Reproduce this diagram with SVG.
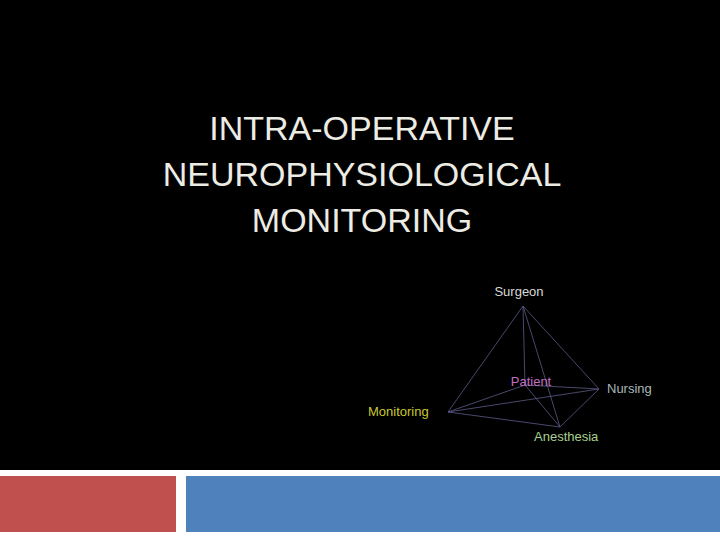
<svg xmlns="http://www.w3.org/2000/svg" width="720" height="540" viewBox="0 0 720 540">
<style>
.t{font-family:"Liberation Sans",Arial,sans-serif;font-size:34px;fill:#ecece4;text-anchor:middle}
.l{font-family:"Liberation Sans",Arial,sans-serif;font-size:13px}
#connectors line{stroke:#5a5a88;stroke-width:0.8}
</style>
<rect width="720" height="540" fill="#ffffff"/>
<rect width="720" height="470" fill="#000000"/>
<rect x="0" y="476" width="176" height="56" fill="#c0504d"/>
<rect x="186" y="476" width="534" height="56" fill="#4f81bd"/>
<g id="title">
<text class="t" x="362" y="140">INTRA-OPERATIVE</text>
<text class="t" x="362" y="186">NEUROPHYSIOLOGICAL</text>
<text class="t" x="362" y="232">MONITORING</text>
</g>
<g id="connectors">
<line x1="523" y1="306" x2="448" y2="412"/>
<line x1="523" y1="306" x2="599" y2="389"/>
<line x1="523" y1="306" x2="560" y2="427"/>
<line x1="448" y1="412" x2="599" y2="389"/>
<line x1="448" y1="412" x2="560" y2="427"/>
<line x1="599" y1="389" x2="560" y2="427"/>
<line x1="525" y1="385" x2="523" y2="306"/>
<line x1="525" y1="385" x2="448" y2="412"/>
<line x1="525" y1="385" x2="599" y2="389"/>
<line x1="525" y1="385" x2="560" y2="427"/>
</g>
<g id="surgeon"><text class="l" x="519" y="296" text-anchor="middle" fill="#d8d8d8">Surgeon</text></g>
<g id="patient"><text class="l" x="531" y="386" text-anchor="middle" fill="#c070c0">Patient</text></g>
<g id="nursing"><text class="l" x="607" y="393" fill="#a8b8b8">Nursing</text></g>
<g id="monitoring"><text class="l" x="368" y="416" fill="#c8c830">Monitoring</text></g>
<g id="anesthesia"><text class="l" x="534" y="441" fill="#a8d090">Anesthesia</text></g>
</svg>
